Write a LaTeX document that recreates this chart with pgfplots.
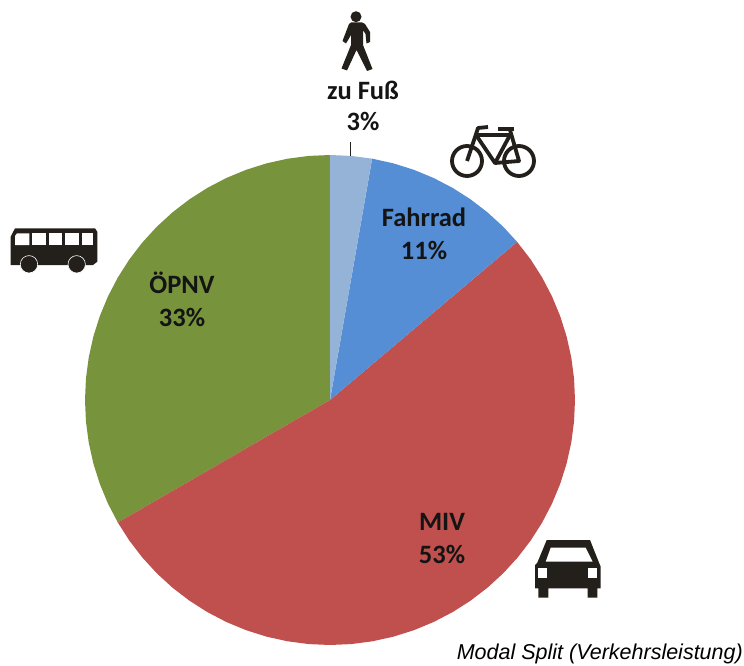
\documentclass[border=0pt]{standalone}
\usepackage{fontspec}
\setmainfont{Carlito}
\newfontfamily\capfont{Liberation Sans}
\usepackage{pgfplots}
\pgfplotsset{compat=1.18}
\usepgfplotslibrary{polar}
\definecolor{oepnv}{RGB}{119,147,60}
\definecolor{miv}{RGB}{192,80,77}
\definecolor{rad}{RGB}{85,142,213}
\definecolor{fuss}{RGB}{149,179,215}
\definecolor{icon}{RGB}{35,31,26}
\definecolor{lbl}{RGB}{20,20,20}

\begin{document}
\begin{tikzpicture}
\path[use as bounding box] (0,0) rectangle (744pt,-666pt);
\begin{polaraxis}[
  at={(330pt,-400pt)}, anchor=center,
  width=490pt, height=490pt, scale only axis,
  ymin=0, ymax=1,
  axis lines=none, clip=false
]
% wedges: (angle in degrees, radius), shares 33 / 53 / 11 / 3 %
\addplot[fill=oepnv, draw=none] coordinates {
  (0,0) (90,1) (95,1) (100,1) (105,1) (110,1) (115,1) (120,1) (125,1) (130,1)
  (135,1) (140,1) (145,1) (150,1) (155,1) (160,1) (165,1) (170,1) (175,1)
  (180,1) (185,1) (190,1) (195,1) (200,1) (205,1) (210,1)
} -- cycle;
\addplot[fill=miv, draw=none] coordinates {
  (0,0) (210,1) (215,1) (220,1) (225,1) (230,1) (235,1) (240,1) (245,1) (250,1)
  (255,1) (260,1) (265,1) (270,1) (275,1) (280,1) (285,1) (290,1) (295,1)
  (300,1) (305,1) (310,1) (315,1) (320,1) (325,1) (330,1) (335,1) (340,1)
  (345,1) (350,1) (355,1) (360,1) (365,1) (370,1) (375,1) (380,1) (385,1)
  (390,1) (395,1) (400.2,1)
} -- cycle;
\addplot[fill=rad, draw=none] coordinates {
  (0,0) (40.2,1) (45,1) (50,1) (55,1) (60,1) (65,1) (70,1) (75,1) (80.1,1)
} -- cycle;
\addplot[fill=fuss, draw=none] coordinates {
  (0,0) (80.1,1) (85,1) (90,1)
} -- cycle;
\end{polaraxis}

\begin{scope}[x=1pt,y=-1pt]
% leader line
\draw[icon, line width=1.3pt] (350.7,142) -- (350.7,156);

% labels
\begin{scope}[every node/.style={font=\fontsize{26.5}{28}\selectfont\bfseries, text=lbl, inner sep=0pt, anchor=base}]
\node at (363,100) {zu Fuß};
\node at (363,131) {3\%};
\node at (424,226.5) {Fahrrad};
\node at (424,259.5) {11\%};
\node at (182,293.5) {ÖPNV};
\node at (182,326.5) {33\%};
\node at (442,530.5) {MIV};
\node at (442,563.5) {53\%};
\end{scope}
\node[font=\capfont\itshape\fontsize{21.5}{24}\selectfont, text=black, inner sep=0pt, anchor=base east] at (743,659) {Modal Split (Verkehrsleistung)};

% pedestrian
\fill[icon] (356,16.7) circle[radius=5.5];
\fill[icon] (351,22.5) -- (362,22.5) -- (365,24) -- (370,32) -- (370,42) -- (366.5,43.5)
  -- (365.5,34) -- (363,30) -- (363,45) -- (372.5,69) -- (367,71) -- (356.5,50)
  -- (347,70.5) -- (341.5,68.5) -- (351,45) -- (351,35) -- (346,43.5) -- (342.5,41)
  -- (349,24) -- cycle;

% bicycle
\begin{scope}[icon, line width=3.8pt, line join=round]
\draw (467,161) circle[radius=15];
\draw (519,161) circle[radius=15];
\draw (467,161) -- (478,128) -- (488,127);
\draw (476,135) -- (510,135) -- (495,163) -- cycle;
\draw (495,163) -- (519,161) -- (510,130);
\draw (498,129) -- (514,129);
\end{scope}

% bus
\fill[icon] (10.7,236.7) -- (15,228.3) -- (95,228.3) -- (97.3,231.7) -- (97.3,261.7)
  -- (93,265) -- (10.7,265) -- cycle;
\fill[white] (15,245) -- (15,236) -- (17,233.3) -- (29.3,233.3) -- (29.3,245) -- cycle;
\fill[white] (32.3,233.3) rectangle (46,245);
\fill[white] (48.7,233.3) rectangle (62,245);
\fill[white] (65,233.3) rectangle (78.7,245);
\fill[white] (81.7,233.3) rectangle (92.7,245);
\fill[icon, draw=white, line width=0.6pt] (29,264.3) circle[radius=8.7];
\fill[icon, draw=white, line width=0.6pt] (76.7,264.3) circle[radius=8.7];

% car
\fill[icon] (546.7,540) -- (590,540) -- (599.3,563.3) -- (600.7,566.7) -- (600.7,588.3)
  -- (597.3,588.3) -- (597.3,597.7) -- (587.7,597.7) -- (587.7,588.3) -- (548.3,588.3)
  -- (548.3,597.7) -- (538.3,597.7) -- (538.3,588.3) -- (535,588.3) -- (535,565)
  -- (537.3,562.7) -- cycle;
\fill[white] (550.7,547.7) -- (585.7,547.7) -- (592.7,561.7) -- (545.7,561.7) -- cycle;
\fill[white] (538.3,568.3) rectangle (547.3,578.3);
\fill[white] (588.3,568.3) rectangle (597.3,578.3);
\end{scope}
\end{tikzpicture}
\end{document}
